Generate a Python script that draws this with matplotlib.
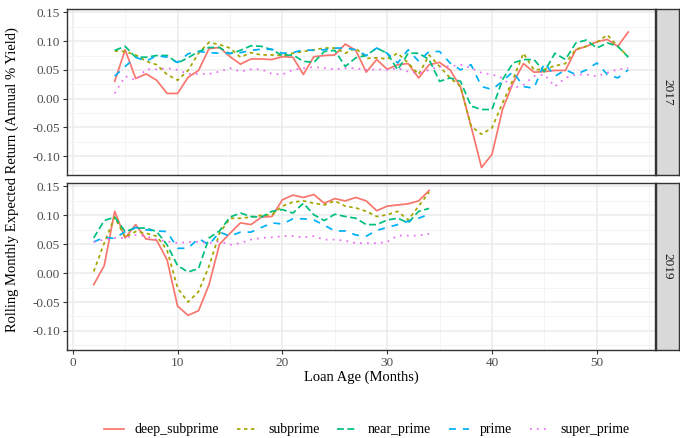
import matplotlib
matplotlib.use("Agg")
import matplotlib.pyplot as plt
from matplotlib.lines import Line2D
import numpy as np

# ---------------- data ----------------
series_names = ["deep_subprime", "subprime", "near_prime", "prime", "super_prime"]

months_2017 = list(range(4, 54))
deep_2017 = [0.030, 0.085, 0.035, 0.043, 0.032, 0.009, 0.009, 0.037, 0.049, 0.087,
             0.089, 0.073, 0.060, 0.069, 0.069, 0.068, 0.073, 0.072, 0.042, 0.073,
             0.075, 0.076, 0.095, 0.084, 0.046, 0.068, 0.051, 0.059, 0.061, 0.036,
             0.059, 0.063, 0.050, 0.020, -0.048, -0.120, -0.097, -0.019, 0.027, 0.061,
             0.046, 0.047, 0.049, 0.049, 0.085, 0.091, 0.099, 0.103, 0.091, 0.116]
sub_2017 = [0.083, 0.082, 0.076, 0.065, 0.059, 0.042, 0.032, 0.049, 0.079, 0.098,
            0.094, 0.088, 0.072, 0.080, 0.076, 0.076, 0.075, 0.079, 0.082, 0.085,
            0.088, 0.088, 0.079, 0.088, 0.070, 0.071, 0.069, 0.079, 0.062, 0.042,
            0.076, 0.056, 0.036, 0.021, -0.048, -0.062, -0.051, -0.008, 0.033, 0.079,
            0.050, 0.051, 0.057, 0.061, 0.086, 0.091, 0.098, 0.111, 0.091, 0.073]
near_2017 = [0.084, 0.091, 0.072, 0.072, 0.075, 0.075, 0.062, 0.071, 0.082, 0.089,
             0.089, 0.078, 0.084, 0.092, 0.091, 0.085, 0.075, 0.076, 0.065, 0.063,
             0.082, 0.084, 0.056, 0.071, 0.075, 0.088, 0.079, 0.050, 0.079, 0.079,
             0.068, 0.030, 0.036, 0.030, -0.013, -0.019, -0.019, 0.033, 0.062, 0.068,
             0.068, 0.047, 0.079, 0.068, 0.097, 0.102, 0.088, 0.097, 0.091, 0.072]
prime_2017 = [0.039, 0.056, 0.072, 0.065, 0.075, 0.072, 0.063, 0.078, 0.082, 0.080,
              0.079, 0.079, 0.080, 0.084, 0.086, 0.086, 0.079, 0.080, 0.085, 0.084,
              0.085, 0.088, 0.088, 0.085, 0.075, 0.088, 0.079, 0.062, 0.085, 0.065,
              0.082, 0.082, 0.062, 0.050, 0.059, 0.021, 0.016, 0.030, 0.047, 0.021,
              0.018, 0.062, 0.039, 0.050, 0.042, 0.050, 0.062, 0.042, 0.036, 0.050]
super_2017 = [0.009, 0.039, 0.032, 0.051, 0.051, 0.053, 0.050, 0.043, 0.043, 0.043,
              0.047, 0.053, 0.047, 0.051, 0.051, 0.043, 0.042, 0.050, 0.053, 0.055,
              0.053, 0.051, 0.053, 0.053, 0.050, 0.051, 0.050, 0.053, 0.047, 0.044,
              0.050, 0.056, 0.056, 0.059, 0.053, 0.045, 0.042, 0.036, 0.018, 0.024,
              0.039, 0.042, 0.021, 0.036, 0.042, 0.042, 0.039, 0.045, 0.051, 0.053]

months_2019 = list(range(2, 35))
deep_2019 = [-0.020, 0.013, 0.107, 0.061, 0.084, 0.059, 0.057, 0.023, -0.057, -0.073,
             -0.065, -0.020, 0.050, 0.069, 0.087, 0.084, 0.097, 0.098, 0.127, 0.135,
             0.131, 0.136, 0.121, 0.129, 0.125, 0.131, 0.125, 0.108, 0.116, 0.118,
             0.120, 0.125, 0.143]
sub_2019 = [0.003, 0.052, 0.097, 0.062, 0.072, 0.069, 0.064, 0.040, -0.026, -0.050,
            -0.032, 0.012, 0.069, 0.095, 0.095, 0.097, 0.100, 0.101, 0.116, 0.123,
            0.125, 0.121, 0.118, 0.125, 0.116, 0.113, 0.107, 0.098, 0.101, 0.107,
            0.092, 0.116, 0.140]
near_2019 = [0.061, 0.091, 0.097, 0.072, 0.078, 0.078, 0.072, 0.049, 0.013, 0.002,
             0.008, 0.061, 0.073, 0.097, 0.104, 0.098, 0.097, 0.107, 0.110, 0.104,
             0.121, 0.101, 0.091, 0.102, 0.098, 0.095, 0.084, 0.084, 0.092, 0.095,
             0.087, 0.107, 0.112]
prime_2019 = [0.054, 0.062, 0.060, 0.072, 0.079, 0.075, 0.073, 0.072, 0.043, 0.043,
              0.060, 0.049, 0.071, 0.064, 0.071, 0.071, 0.079, 0.087, 0.085, 0.094,
              0.094, 0.092, 0.083, 0.073, 0.073, 0.066, 0.064, 0.074, 0.079, 0.084,
              0.090, 0.095, 0.102]
super_2019 = [0.054, 0.058, 0.061, 0.061, 0.066, 0.064, 0.058, 0.055, 0.052, 0.054,
              0.054, 0.052, 0.055, 0.049, 0.052, 0.058, 0.061, 0.062, 0.064, 0.064,
              0.062, 0.064, 0.058, 0.058, 0.056, 0.052, 0.052, 0.052, 0.054, 0.065,
              0.065, 0.065, 0.068]

panel_labels = ["2017", "2019"]
x_ticks = [0, 10, 20, 30, 40, 50]
y_ticks = [-0.10, -0.05, 0.00, 0.05, 0.10, 0.15]
y_tick_labels = ["-0.10", "-0.05", "0.00", "0.05", "0.10", "0.15"]

# ---------------- style ----------------
colors = ["#F8766D", "#A3A500", "#00BF7D", "#00B0F6", "#E76BF3"]
styles = ["-", (0, (2, 2)), (0, (4, 2)), (0, (4, 4)), (0, (1, 3))]
lw = 1.25

plt.rcParams['font.family'] = ['Liberation Serif', 'DejaVu Serif']

W, H = 680, 438
fig = plt.figure(figsize=(W / 100, H / 100), dpi=100)

def frac(x0, y0, x1, y1):
    return [x0 / W, (H - y1) / H, (x1 - x0) / W, (y1 - y0) / H]

panels = [
    (frac(67, 9, 655, 175), months_2017,
     [deep_2017, sub_2017, near_2017, prime_2017, super_2017], (656, 9, 679, 175)),
    (frac(67, 183, 655, 350), months_2019,
     [deep_2019, sub_2019, near_2019, prime_2019, super_2019], (656, 183, 679, 350)),
]

for i, (rect, months, ys, strip) in enumerate(panels):
    ax = fig.add_axes(rect)
    ax.set_xlim(-0.55, 55.55)
    ax.set_ylim(-0.133, 0.156)
    ax.set_xticks(x_ticks)
    ax.set_xticks([5, 15, 25, 35, 45, 55], minor=True)
    ax.set_yticks(y_ticks)
    ax.set_yticks([-0.125, -0.075, -0.025, 0.025, 0.075, 0.125], minor=True)
    ax.set_yticklabels(y_tick_labels)
    ax.grid(True, which='major', color='#EBEBEB', linewidth=1.1)
    ax.grid(True, which='minor', color='#F2F2F2', linewidth=0.6)
    ax.set_axisbelow(True)
    for s in ax.spines.values():
        s.set_color('#333333')
        s.set_linewidth(1.0)
    ax.tick_params(axis='both', which='major', colors='#333333', length=3,
                   width=0.8, labelsize=9.5, labelcolor='#4D4D4D', pad=2)
    ax.tick_params(axis='both', which='minor', length=0)
    if i == 0:
        ax.tick_params(axis='x', labelbottom=False, length=0)
    for y, c, ls, name in zip(ys, colors, styles, series_names):
        ax.plot(months, y, color=c, linestyle=ls, linewidth=lw, label=name)
    if i == 1:
        ax.set_xlabel("Loan Age (Months)", fontsize=10.5, labelpad=1)

    sx0, sy0, sx1, sy1 = strip
    sax = fig.add_axes(frac(sx0, sy0, sx1, sy1))
    sax.set_facecolor('#D9D9D9')
    sax.set_xticks([]); sax.set_yticks([])
    for s in sax.spines.values():
        s.set_color('#333333'); s.set_linewidth(1.0)
    sax.text(0.5, 0.5, panel_labels[i], rotation=-90, ha='center', va='center',
             fontsize=9.5, color='#1A1A1A', transform=sax.transAxes)

fig.text(12 / W, 1 - 180 / H, "Rolling Monthly Expected Return (Annual % Yield)",
         rotation=90, ha='center', va='center', fontsize=10.5)

handles = [Line2D([0], [0], color=c, linestyle=ls, linewidth=lw)
           for c, ls in zip(colors, styles)]
fig.legend(handles, series_names, loc='center', bbox_to_anchor=(367 / W, 1 - 430 / H),
           ncol=5, frameon=False, fontsize=10, handlelength=1.45, columnspacing=1.3,
           handletextpad=0.75)

fig.savefig("out.png", dpi=100)
